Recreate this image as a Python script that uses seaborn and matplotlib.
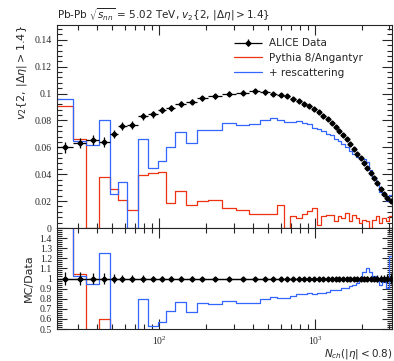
import numpy as np
import matplotlib
matplotlib.use("Agg")
import matplotlib.pyplot as plt
import seaborn as sns
from matplotlib.ticker import MultipleLocator, LogLocator, NullFormatter
from matplotlib.container import ErrorbarContainer
from matplotlib.legend_handler import HandlerErrorbar

# Bin-Kanten in N_ch (alle Verteilungen benutzen dieselben Bins)
nch_edges = [22, 28, 34, 41, 48, 54, 62, 73, 85, 98, 110, 127, 149, 175, 205,
             251, 313, 379, 446, 511, 572, 635, 695, 758, 819, 885, 954, 1025,
             1096, 1168, 1243, 1318, 1394, 1474, 1557, 1639, 1731, 1823, 1915,
             2010, 2113, 2219, 2330, 2450, 2572, 2700, 2840, 2981, 3116]

# ALICE Daten v2{2, |deta|>1.4}
alice_v2 = [0.0600, 0.0634, 0.0654, 0.0639, 0.0700, 0.0761, 0.0767, 0.0831,
            0.0846, 0.0879, 0.0895, 0.0924, 0.0939, 0.0964, 0.0981, 0.0999,
            0.1007, 0.1017, 0.1009, 0.0999, 0.0992, 0.0981, 0.0959, 0.0942,
            0.0924, 0.0904, 0.0884, 0.0861, 0.0836, 0.0809, 0.0782, 0.0754,
            0.0724, 0.0692, 0.0659, 0.0624, 0.0589, 0.0554, 0.0519, 0.0484,
            0.0446, 0.0409, 0.0369, 0.0332, 0.0291, 0.0254, 0.0224, 0.0199]
alice_err = [0.0040, 0.0038, 0.0036, 0.0035, 0.0032, 0.0030, 0.0028, 0.0026,
             0.0025, 0.0024, 0.0022, 0.0021, 0.0020, 0.0019, 0.0018, 0.0018,
             0.0017, 0.0017, 0.0016, 0.0016, 0.0015, 0.0015, 0.0015, 0.0015,
             0.0014, 0.0014, 0.0014, 0.0014, 0.0013, 0.0013, 0.0013, 0.0013,
             0.0012, 0.0012, 0.0012, 0.0012, 0.0011, 0.0011, 0.0011, 0.0011,
             0.0010, 0.0010, 0.0010, 0.0010, 0.0010, 0.0010, 0.0010, 0.0010]

# Pythia 8/Angantyr
angantyr_v2 = [0.0910, 0.0660, 0.0000, 0.0380, 0.0287, 0.0206, 0.0134, 0.0394,
               0.0410, 0.0415, 0.0187, 0.0272, 0.0169, 0.0199, 0.0211, 0.0149,
               0.0137, 0.0107, 0.0101, 0.0101, 0.0172, 0.0000, 0.0086, 0.0074,
               0.0104, 0.0124, 0.0149, 0.0024, 0.0086, 0.0096, 0.0100, 0.0049,
               0.0086, 0.0074, 0.0110, 0.0049, 0.0096, 0.0074, 0.0036, 0.0061,
               0.0049, 0.0000, 0.0061, 0.0086, 0.0036, 0.0074, 0.0049, 0.0086]

# + rescattering
rescat_v2 = [0.0956, 0.0650, 0.0620, 0.0800, 0.0250, 0.0340, 0.0000, 0.0660,
             0.0450, 0.0500, 0.0606, 0.0711, 0.0631, 0.0731, 0.0731, 0.0779,
             0.0767, 0.0774, 0.0800, 0.0821, 0.0800, 0.0790, 0.0790, 0.0795,
             0.0780, 0.0770, 0.0745, 0.0735, 0.0720, 0.0700, 0.0690, 0.0665,
             0.0645, 0.0625, 0.0600, 0.0575, 0.0550, 0.0530, 0.0524, 0.0513,
             0.0491, 0.0434, 0.0380, 0.0329, 0.0271, 0.0246, 0.0204, 0.0243]

red = "#ee3311"
blue = "#3366ff"

sns.set_style("ticks")
plt.rcParams["font.family"] = ["DejaVu Sans"]
plt.rcParams["mathtext.fontset"] = "dejavusans"

edges = np.array(nch_edges, dtype=float)
centers = np.sqrt(edges[:-1] * edges[1:])
data = np.array(alice_v2)
err = np.array(alice_err)


def stufen(ax, werte, farbe, label=None):
    # Histogramm als Stufenlinie über die Bin-Kanten
    y = np.append(werte, werte[-1])
    sns.lineplot(x=edges, y=y, drawstyle="steps-post", color=farbe,
                 linewidth=0.9, estimator=None, sort=False, label=label, ax=ax)


fig = plt.figure(figsize=(3.94, 3.61), dpi=100)
ax = fig.add_axes([0.144, 0.3684, 0.851, 0.5623])
rax = fig.add_axes([0.144, 0.0886, 0.851, 0.2798], sharex=ax)

# Hauptplot
ax.errorbar(centers, data, yerr=err,
            xerr=[centers - edges[:-1], edges[1:] - centers],
            fmt="D", color="black", ms=2.6, lw=0.9, capsize=0, label="ALICE Data",
            zorder=5)
stufen(ax, np.array(angantyr_v2), red, "Pythia 8/Angantyr")
stufen(ax, np.array(rescat_v2), blue, "+ rescattering")

# Ratio-Plot
rax.axhline(1.0, color="black", lw=0.9)
rax.errorbar(centers, np.ones_like(data), yerr=err / data,
             xerr=[centers - edges[:-1], edges[1:] - centers],
             fmt="D", color="black", ms=2.6, lw=0.9, capsize=0, zorder=5)
stufen(rax, np.array(angantyr_v2) / data, red)
stufen(rax, np.array(rescat_v2) / data, blue)

for a in (ax, rax):
    a.set_xscale("log")
    a.set_xlim(22, 3116)
    a.xaxis.set_major_locator(LogLocator(base=10))
    a.xaxis.set_minor_locator(LogLocator(base=10, subs=np.arange(2, 10)))
    a.xaxis.set_minor_formatter(NullFormatter())
    a.tick_params(which="both", direction="in", top=True, right=True,
                  labelsize=7, labelfontfamily="Liberation Serif", width=0.8)
    a.tick_params(which="major", length=7)
    a.tick_params(which="minor", length=3.5)
    for s in a.spines.values():
        s.set_linewidth(0.8)
    if a.get_legend() is not None:
        a.get_legend().remove()

ax.set_ylim(0, 0.151)
ax.yaxis.set_minor_locator(MultipleLocator(0.004))
ax.set_yticks([0.0, 0.02, 0.04, 0.06, 0.08, 0.1, 0.12, 0.14])
ax.set_yticklabels(["0", "0.02", "0.04", "0.06", "0.08", "0.1", "0.12", "0.14"])
ax.tick_params(labelbottom=False)
ax.set_ylabel(r"$v_2\{2,\, |\Delta\eta| > 1.4\}$", loc="top", fontsize=8)
ax.set_title(r"Pb-Pb $\sqrt{s_{nn}}$ = 5.02 TeV, $v_2\{2,\, |\Delta\eta| > 1.4\}$",
             loc="left", fontsize=7.5, pad=5)

rax.set_ylim(0.5, 1.5)
rax.set_yticks([0.5, 0.6, 0.7, 0.8, 0.9, 1.0, 1.1, 1.2, 1.3, 1.4])
rax.set_yticklabels(["0.5", "0.6", "0.7", "0.8", "0.9", "1", "1.1", "1.2", "1.3", "1.4"])
rax.yaxis.set_minor_locator(MultipleLocator(0.02))
rax.tick_params(axis="x", pad=4)
rax.set_ylabel("MC/Data", fontsize=8)
rax.set_xlabel(r"$N_{ch}(|\eta| < 0.8)$", loc="right", fontsize=7.5, labelpad=0)

# Legende: Daten zuerst, Fehlerbalken über die ganze Handle-Breite
h, l = ax.get_legend_handles_labels()
order = [l.index("ALICE Data"), l.index("Pythia 8/Angantyr"), l.index("+ rescattering")]
ax.legend([h[i] for i in order], [l[i] for i in order],
          loc="upper left", bbox_to_anchor=(0.53, 0.935), frameon=False,
          fontsize=7.5, handlelength=2.6, handletextpad=0.7, borderpad=0,
          borderaxespad=0, labelspacing=0.45,
          handler_map={ErrorbarContainer: HandlerErrorbar(xerr_size=1.3, yerr_size=0.35)})

fig.align_ylabels([ax, rax])
plt.savefig("out.png", dpi=100)
